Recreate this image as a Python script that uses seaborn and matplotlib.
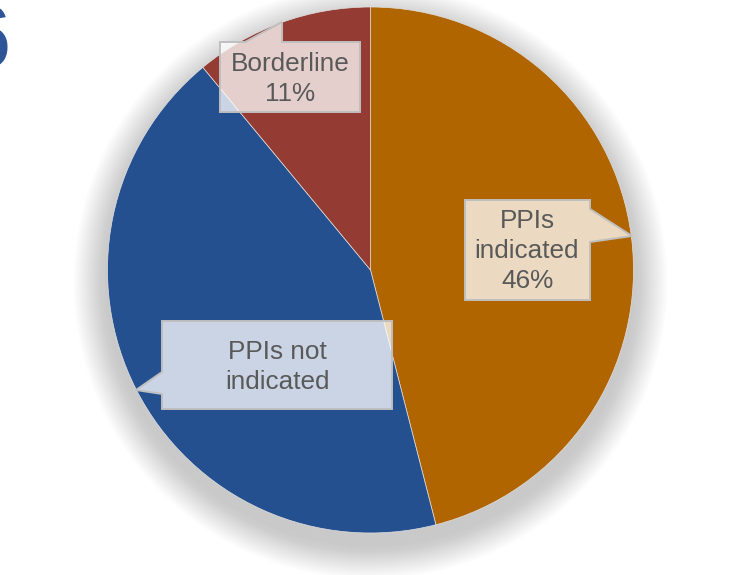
import matplotlib
matplotlib.use("Agg")
import matplotlib.pyplot as plt
import seaborn as sns
import numpy as np
from matplotlib.patches import Circle, Polygon

# ---- data ----
categories = ["PPIs indicated", "PPIs not indicated", "Borderline"]
values = [46, 43, 11]
label_texts = ["PPIs\nindicated\n46%", "PPIs not\nindicated", "Borderline\n11%"]
colors = ["#B06500", "#255090", "#943C33"]

sns.set_theme(style="white")
plt.rcParams['font.family'] = ['Liberation Sans', 'DejaVu Sans']

W, H = 738, 575
fig = plt.figure(figsize=(W / 100, H / 100), dpi=100)
ax = fig.add_axes([0, 0, 1, 1])
ax.set_axis_off()

# pixel geometry of the pie
cx, cy, R = 370.5, 270.0, 263.0

def px(x, y):
    """pixel (from top-left) -> data coords"""
    return ((x - cx) / R, (cy - y) / R)

# soft shadow
n = 30
for i in range(n):
    r = 1.0 + 0.13 * (i + 1) / n
    ax.add_patch(Circle((0.0, -0.045), r, facecolor="#505050", edgecolor="none",
                        alpha=0.006, zorder=0))

wedges, _ = ax.pie(values, colors=colors, startangle=90, counterclock=False,
                   radius=1.0, center=(0, 0), frame=True,
                   wedgeprops=dict(edgecolor="#E0E0E0", linewidth=0.5))
for w in wedges:
    w.set_zorder(2)
ax.set_xlim(-cx / R, (W - cx) / R)
ax.set_ylim(-(H - cy) / R, cy / R)
ax.set_aspect("auto")
ax.set_axis_off()

# callout boxes: (polygon in pixels, text centre, text)
callouts = [
    ([(220, 42), (245, 42), (282, 22), (282, 42), (360, 42), (360, 112), (220, 112)],
     (290, 79), label_texts[2]),
    ([(465, 200), (590, 200), (590, 209), (632, 236), (590, 242), (590, 300), (465, 300)],
     (527, 251), label_texts[0]),
    ([(162, 321), (392, 321), (392, 409), (162, 409), (162, 394), (136, 390), (162, 372)],
     (277, 367), label_texts[1]),
]
for poly, (tx, ty), txt in callouts:
    pts = [px(x, y) for x, y in poly]
    ax.add_patch(Polygon(pts, closed=True, facecolor="white", alpha=0.76,
                         edgecolor="none", zorder=3))
    ax.add_patch(Polygon(pts, closed=True, facecolor="none",
                         edgecolor="#BFBFBF", linewidth=1.4, zorder=4))
    x, y = px(tx, ty)
    ax.text(x, y, txt, ha="center", va="center", fontsize=18.8,
            color="#595959", linespacing=1.32, zorder=5)

# partial slide-number glyph at the top-left edge (only its right edge shows)
fig.text(11 / W, 1 - 2 / H, "6", fontsize=64, color="#2E5597", ha="right", va="top")

fig.savefig("out.png", dpi=100, facecolor="white")
